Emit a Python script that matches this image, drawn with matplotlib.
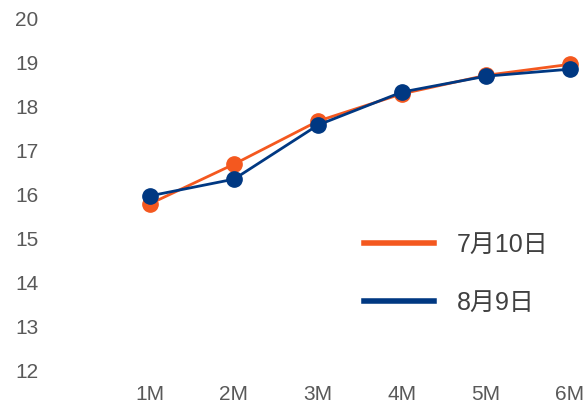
import matplotlib.pyplot as plt
from matplotlib.lines import Line2D

# Data
tenors = ["1M", "2M", "3M", "4M", "5M", "6M"]
jul10 = [15.80, 16.70, 17.68, 18.30, 18.72, 18.97]
aug9 = [15.98, 16.36, 17.59, 18.34, 18.70, 18.86]
series_names = ["7月10日", "8月9日"]
yticks = [12, 13, 14, 15, 16, 17, 18, 19, 20]

orange = "#F4581F"
blue = "#003882"
grey = "#595959"

plt.rcParams["font.family"] = ["Liberation Sans", "Noto Sans CJK SC", "DejaVu Sans"]

W, H = 587, 412
fig = plt.figure(figsize=(W / 100, H / 100), dpi=100)

# axes placed in pixel terms: x=-1 at 66px, x=5.2 at 587px; y=12 at 371px, y=20 at 19px
L, R, T, B = 66, 586.8, 19, 371
ax = fig.add_axes([L / W, (H - B) / H, (R - L) / W, (B - T) / H])

x = list(range(len(tenors)))
ax.plot(x, jul10, color=orange, lw=2, marker="o", ms=11, clip_on=False, zorder=3)
ax.plot(x, aug9, color=blue, lw=2, marker="o", ms=11, clip_on=False, zorder=4)

ax.set_xlim(-1, 5.2)
ax.set_ylim(12, 20)
ax.set_xticks(x)
ax.set_xticklabels(tenors)
ax.set_yticks(yticks)
ax.tick_params(length=0, labelsize=15, colors=grey)
ax.tick_params(axis="y", pad=20)
ax.tick_params(axis="x", pad=10)
for s in ax.spines.values():
    s.set_visible(False)

handles = [Line2D([], [], color=orange, lw=4), Line2D([], [], color=blue, lw=4)]
leg = ax.legend(handles, series_names, loc="upper left",
                bbox_to_anchor=(364 / W, (H - 233) / H), bbox_transform=fig.transFigure,
                frameon=False, fontsize=18, handlelength=2.8, handletextpad=0.9,
                labelspacing=1.36, borderpad=0, borderaxespad=0)
for t in leg.get_texts():
    t.set_color("#404040")

fig.savefig("out.png", dpi=100)
